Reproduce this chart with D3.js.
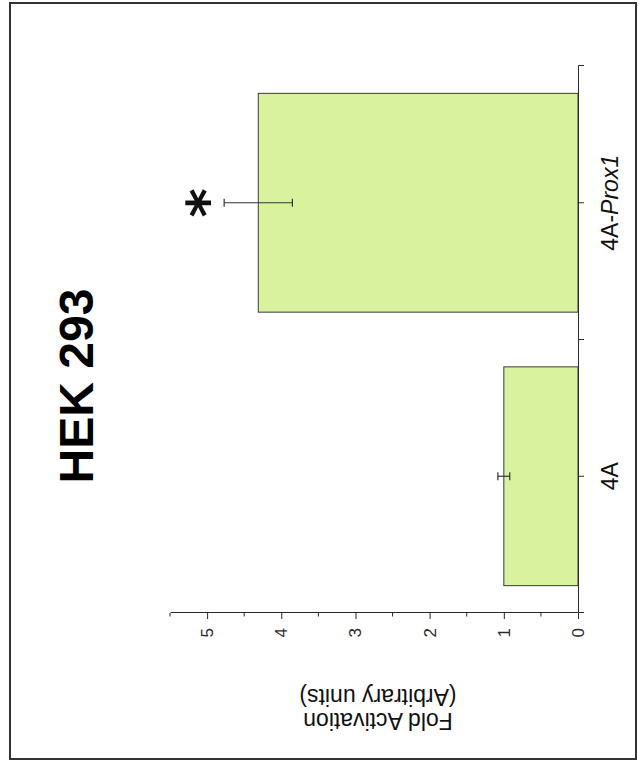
<!DOCTYPE html>
<html><head><meta charset="utf-8">
<script src="https://cdn.jsdelivr.net/npm/d3@7"></script>
<style>body{margin:0;background:#fff} svg{display:block}</style>
</head><body>
<script>
// Reporter assay in HEK 293 cells: fold activation per construct
const categories = ["4A", "4A-Prox1"];
const foldValues = [1.0, 4.31];
const errorValues = [0.08, 0.46];
const significance = ["", "*"];
const valueTicks = [0, 1, 2, 3, 4, 5];
const minorTicks = [0.5, 1.5, 2.5, 3.5, 4.5, 5.5];
const chartTitle = "HEK 293";
const axisTitleLines = ["Fold Activation", "(Arbitrary units)"];

const width = 639, height = 765;
const font = "'Liberation Sans', Arial, sans-serif";
const ink = "#2b2b2b";

const svg = d3.select("body").append("svg")
  .attr("width", width).attr("height", height);

// outer frame
svg.append("rect")
  .attr("x", 10).attr("y", 3).attr("width", 626).attr("height", 756)
  .attr("fill", "none").attr("stroke", "#333").attr("stroke-width", 2);

// the chart is built as an upright bar chart and turned a quarter turn counter-clockwise
const g = svg.append("g").attr("transform", `translate(0,${height}) rotate(-90)`);

const x = d3.scaleBand().domain(categories).range([152, 699])
  .paddingInner(0.2).paddingOuter(0.1);
const y = d3.scaleLinear().domain([0, 5.5]).range([578, 170]);

// bars
g.selectAll("rect.bar").data(categories).join("rect")
  .attr("class", "bar")
  .attr("x", d => x(d))
  .attr("width", x.bandwidth())
  .attr("y", (d, i) => y(foldValues[i]))
  .attr("height", (d, i) => y(0) - y(foldValues[i]))
  .attr("fill", "#d8f29e")
  .attr("stroke", "#3a3a3a").attr("stroke-width", 1);

// error bars
const eb = g.selectAll("g.err").data(categories).join("g").attr("class", "err")
  .attr("transform", d => `translate(${x(d) + x.bandwidth() / 2},0)`)
  .attr("stroke", "#333").attr("stroke-width", 1.2);
eb.append("line").attr("y1", (d, i) => y(foldValues[i] - errorValues[i]))
  .attr("y2", (d, i) => y(foldValues[i] + errorValues[i]));
eb.append("line").attr("x1", -4).attr("x2", 4)
  .attr("y1", (d, i) => y(foldValues[i] + errorValues[i]))
  .attr("y2", (d, i) => y(foldValues[i] + errorValues[i]));
eb.append("line").attr("x1", -4).attr("x2", 4)
  .attr("y1", (d, i) => y(foldValues[i] - errorValues[i]))
  .attr("y2", (d, i) => y(foldValues[i] - errorValues[i]));

// significance marks
g.selectAll("text.sig").data(categories).join("text")
  .attr("class", "sig")
  .attr("x", d => x(d) + x.bandwidth() / 2)
  .attr("y", (d, i) => y(foldValues[i] + errorValues[i]) + 2)
  .attr("text-anchor", "middle")
  .attr("font-family", "'DejaVu Sans', sans-serif").attr("font-weight", "bold")
  .attr("font-size", 56).attr("fill", "#111")
  .text((d, i) => significance[i]);

// value axis
const yAxis = g.append("g").attr("transform", `translate(${x.range()[0]},0)`)
  .call(d3.axisLeft(y).tickValues(valueTicks).tickSize(6).tickSizeOuter(0)
    .tickPadding(9).tickFormat(d3.format("d")));
yAxis.selectAll("text").attr("font-family", font).attr("font-size", 17).attr("fill", ink);
yAxis.selectAll("line, path").attr("stroke", ink);
yAxis.selectAll("line.minor").data(minorTicks).join("line")
  .attr("class", "minor")
  .attr("x1", 0).attr("x2", -3.5)
  .attr("y1", d => y(d)).attr("y2", d => y(d))
  .attr("stroke", ink);

// category axis
const xAxis = g.append("g").attr("transform", `translate(0,${y(0)})`)
  .call(d3.axisBottom(x).tickSize(6).tickSizeOuter(6).tickPadding(18).tickFormat(""));
xAxis.selectAll("line, path").attr("stroke", ink);
const boundaries = categories.slice(1).map(c => x(c) - x.step() * x.paddingInner() / 2);
xAxis.selectAll("line.bound").data(boundaries).join("line")
  .attr("class", "bound")
  .attr("x1", d => d).attr("x2", d => d)
  .attr("y1", 0).attr("y2", 6).attr("stroke", ink);

// category labels, gene name in italics
xAxis.selectAll(".tick text").each(function (d) {
  const t = d3.select(this).text(null)
    .attr("font-family", font).attr("font-size", 23).attr("fill", "#111");
  const parts = d.split("-");
  if (parts.length > 1) {
    t.append("tspan").text(parts[0] + "-");
    t.append("tspan").attr("font-style", "italic").text(parts.slice(1).join("-"));
  } else {
    t.append("tspan").text(d);
  }
});

// axis title (two lines)
g.selectAll("text.ytitle").data(axisTitleLines).join("text")
  .attr("class", "ytitle")
  .attr("transform", (d, i) => `translate(${52 + i * 24},378) rotate(-90)`)
  .attr("text-anchor", "middle")
  .attr("font-family", font).attr("font-size", 23).attr("fill", "#111")
  .text(d => d);

// plot title
g.append("text")
  .attr("x", 379).attr("y", 93)
  .attr("text-anchor", "middle")
  .attr("font-family", font).attr("font-weight", "bold")
  .attr("font-size", 48).attr("fill", "#000")
  .text(chartTitle);
</script>
</body></html>
